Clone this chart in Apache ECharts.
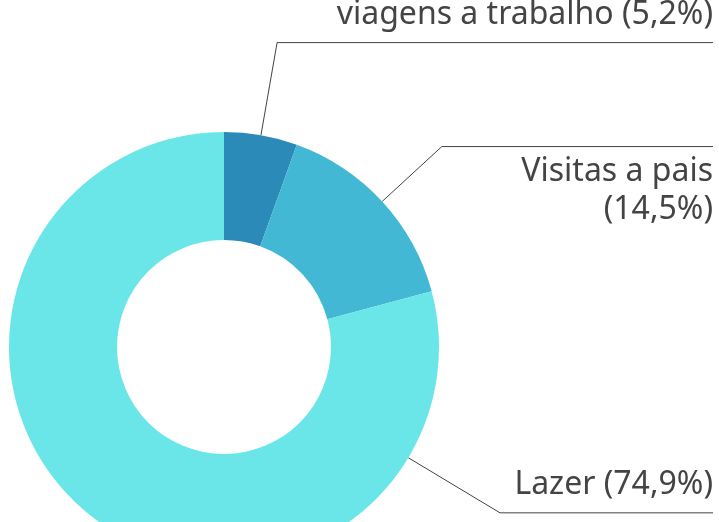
<!DOCTYPE html>
<html>
<head>
<meta charset="utf-8">
<script src="https://cdn.jsdelivr.net/npm/echarts@6/dist/echarts.min.js"></script>
<style>
html,body{margin:0;padding:0;background:#fff;}
#c{width:719px;height:522px;}
</style>
</head>
<body>
<div id="c"></div>
<script>
const categories = ['viagens a trabalho', 'Visitas a pais', 'Lazer'];
const values = [5.2, 14.5, 74.9];
const labelTexts = ['viagens a trabalho (5,2%)', 'Visitas a pais\n(14,5%)', 'Lazer (74,9%)'];
const colors = ['#2B8AB8', '#42B8D5', '#6AE5E8'];

const CENTER = [224, 347];
const R_OUT = 215, R_IN = 107;
const lineLens = [94, 81, 107];
const lazerAnchorAngle = 121; // degrees clockwise from top

const chart = echarts.init(document.getElementById('c'), null, {renderer: 'canvas'});

const FONT = '"Noto Sans"';
const data = categories.map((c, i) => ({
  name: c,
  value: values[i],
  itemStyle: {color: colors[i]},
  label: {formatter: labelTexts[i]},
  labelLine: {length: lineLens[i], length2: 10}
}));

chart.setOption({
  animation: false,
  backgroundColor: '#ffffff',
  series: [{
    type: 'pie',
    center: CENTER,
    radius: [R_IN, R_OUT],
    startAngle: 90,
    clockwise: true,
    avoidLabelOverlap: false,
    data: data,
    label: {
      show: true,
      position: 'outside',
      fontFamily: FONT,
      fontSize: 32,
      lineHeight: 38,
      color: '#444444'
    },
    labelLine: {
      show: true,
      lineStyle: {color: '#444444', width: 1}
    },
    labelLayout: function (params) {
      const W = chart.getWidth();
      const right = W - 6;
      const i = params.dataIndex;
      let p0, p1;
      if (i === 2) {
        const a = lazerAnchorAngle * Math.PI / 180;
        const dx = Math.sin(a), dy = -Math.cos(a);
        p0 = [CENTER[0] + dx * R_OUT, CENTER[1] + dy * R_OUT];
        p1 = [p0[0] + dx * lineLens[2], p0[1] + dy * lineLens[2]];
      } else {
        p0 = params.labelLinePoints[0];
        p1 = params.labelLinePoints[1];
      }
      const p2 = [right, p1[1]];
      const below = (i === 1);
      return {
        x: right,
        y: below ? p1[1] + 6 : p1[1] - 9,
        align: 'right',
        verticalAlign: below ? 'top' : 'bottom',
        labelLinePoints: [p0, p1, p2]
      };
    }
  }]
});
</script>
</body>
</html>
